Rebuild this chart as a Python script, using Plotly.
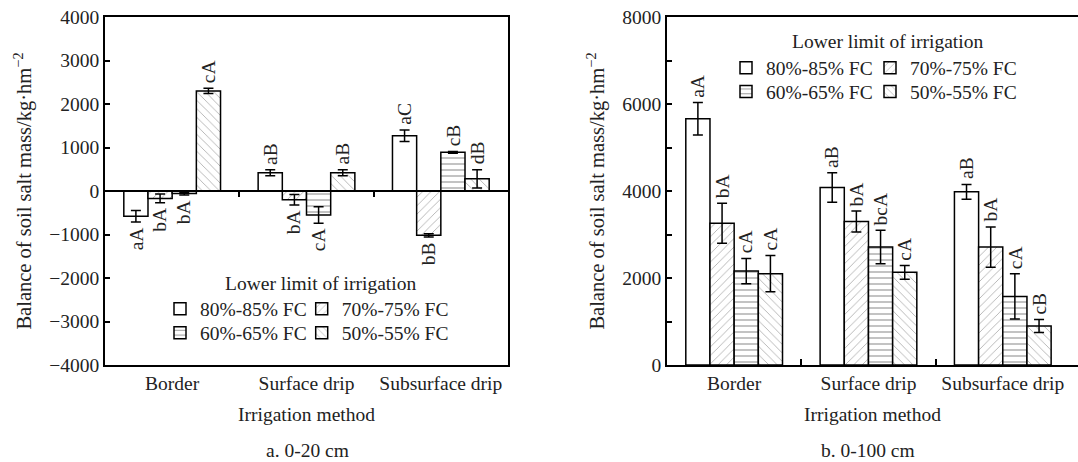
import plotly.graph_objects as go

categories = ["Border", "Surface drip", "Subsurface drip"]
series_names = ["80%-85% FC", "70%-75% FC", "60%-65% FC", "50%-55% FC"]

# Panel a: 0-20 cm
a_values = {
    "80%-85% FC": [-580, 420, 1270],
    "70%-75% FC": [-170, -200, -1020],
    "60%-65% FC": [-60, -550, 890],
    "50%-55% FC": [2300, 420, 280],
}
a_errors = {
    "80%-85% FC": [130, 70, 130],
    "70%-75% FC": [100, 120, 40],
    "60%-65% FC": [30, 190, 20],
    "50%-55% FC": [60, 70, 210],
}
a_letters = {
    "80%-85% FC": ["aA", "aB", "aC"],
    "70%-75% FC": ["bA", "bA", "bB"],
    "60%-65% FC": ["bA", "cA", "cB"],
    "50%-55% FC": ["cA", "aB", "dB"],
}

# Panel b: 0-100 cm
b_values = {
    "80%-85% FC": [5660, 4080, 3980],
    "70%-75% FC": [3260, 3300, 2710],
    "60%-65% FC": [2160, 2710, 1575],
    "50%-55% FC": [2100, 2130, 895],
}
b_errors = {
    "80%-85% FC": [375, 340, 170],
    "70%-75% FC": [460, 240, 465],
    "60%-65% FC": [290, 385, 520],
    "50%-55% FC": [415, 160, 150],
}
b_letters = {
    "80%-85% FC": ["aA", "aB", "aB"],
    "70%-75% FC": ["bA", "bA", "bA"],
    "60%-65% FC": ["cA", "bcA", "cA"],
    "50%-55% FC": ["cA", "cA", "cB"],
}

a_ticks = [4000, 3000, 2000, 1000, 0, -1000, -2000, -3000, -4000]
b_ticks = [0, 2000, 4000, 6000, 8000]

FONT = "Liberation Serif"
FS = 19.5
FS_Y = 20.5
TXT = "#222222"

patterns = {
    "80%-85% FC": dict(shape=""),
    "70%-75% FC": dict(shape="/", size=6, solidity=0.15, fgcolor="#666", bgcolor="white"),
    "60%-65% FC": dict(shape="-", size=6, solidity=0.17, fgcolor="#111", bgcolor="white"),
    "50%-55% FC": dict(shape="\\", size=6, solidity=0.15, fgcolor="#666", bgcolor="white"),
}

W = 0.18
offsets = [-1.5 * W, -0.5 * W, 0.5 * W, 1.5 * W]

# plot-area geometry in pixels
L, R, T, B = 105, 0, 17, 97
PW = 1078 - L - R
PH = 462 - T - B


def px_x(px):
    return (px - L) / PW


def px_y(py):
    return (462 - B - py) / PH


fig = go.Figure()
annotations = []

legend_pos = {}
col_text_a = [200, 341.7]
row_a = [309, 333]
col_text_b = [766, 910]
row_b = [68, 91.7]

for k, name in enumerate(series_names):
    xs = [i + offsets[k] for i in range(len(categories))]
    r, c = divmod(k, 2)
    # panel a
    lid = "legend" if k == 0 else f"legend{k + 1}"
    legend_pos[lid] = (px_x(col_text_a[c] - 40), px_y(row_a[r]))
    fig.add_trace(go.Bar(
        x=xs, y=a_values[name], width=W, name=name,
        marker=dict(color="white", line=dict(color="black", width=1.5), pattern=patterns[name]),
        error_y=dict(type="data", array=a_errors[name], color="black", thickness=1.5, width=5),
        xaxis="x", yaxis="y", legend=lid, showlegend=True,
    ))
    for x, v, e, t in zip(xs, a_values[name], a_errors[name], a_letters[name]):
        pos = v >= 0
        annotations.append(dict(
            x=x, y=v + e if pos else v - e, xref="x", yref="y", text=t, textangle=-90,
            showarrow=False, xanchor="center", yanchor="bottom" if pos else "top",
            yshift=3 if pos else -3, font=dict(family=FONT, size=FS, color=TXT)))
    # panel b
    lid2 = f"legend{k + 5}"
    legend_pos[lid2] = (px_x(col_text_b[c] - 40), px_y(row_b[r]))
    fig.add_trace(go.Bar(
        x=xs, y=b_values[name], width=W, name=name,
        marker=dict(color="white", line=dict(color="black", width=1.5), pattern=patterns[name]),
        error_y=dict(type="data", array=b_errors[name], color="black", thickness=1.5, width=5),
        xaxis="x2", yaxis="y2", legend=lid2, showlegend=True,
    ))
    for x, v, e, t in zip(xs, b_values[name], b_errors[name], b_letters[name]):
        annotations.append(dict(
            x=x, y=v + e, xref="x2", yref="y2", text=t, textangle=-90,
            showarrow=False, xanchor="center", yanchor="bottom", yshift=3,
            font=dict(family=FONT, size=FS, color=TXT)))

# invisible trace to carry the zero-line axis of panel a
fig.add_trace(go.Scatter(x=[None], y=[None], xaxis="x3", yaxis="y", showlegend=False, hoverinfo="skip"))

legend_layouts = {}
for lid, (lx, ly) in legend_pos.items():
    legend_layouts[lid] = dict(
        x=lx, y=ly, xanchor="left", yanchor="middle", orientation="h",
        bgcolor="rgba(0,0,0,0)", borderwidth=0,
        font=dict(family=FONT, size=FS, color=TXT),
    )

# legend titles and panel captions
annotations += [
    dict(x=px_x(320), y=px_y(283), xref="paper", yref="paper", text="Lower limit of irrigation",
         showarrow=False, xanchor="center", yanchor="middle", font=dict(family=FONT, size=FS, color=TXT)),
    dict(x=px_x(887), y=px_y(41.7), xref="paper", yref="paper", text="Lower limit of irrigation",
         showarrow=False, xanchor="center", yanchor="middle", font=dict(family=FONT, size=FS, color=TXT)),
    dict(x=px_x(307), y=px_y(450), xref="paper", yref="paper", text="a. 0-20 cm",
         showarrow=False, xanchor="center", yanchor="middle", font=dict(family=FONT, size=FS, color=TXT)),
    dict(x=px_x(868), y=px_y(450), xref="paper", yref="paper", text="b. 0-100 cm",
         showarrow=False, xanchor="center", yanchor="middle", font=dict(family=FONT, size=FS, color=TXT)),
]

axis_common = dict(showgrid=False, zeroline=False, showline=True, linecolor="black", linewidth=1.5,
                   tickfont=dict(family=FONT, size=FS, color=TXT), tickcolor="black", tickwidth=1.5)

ytitle = "Balance of soil salt mass/kg·hm<sup>−2</sup>"
xdom_a = [0, px_x(508)]
xdom_b = [px_x(667), 1]

fig.update_layout(
    width=1078, height=462,
    margin=dict(l=L, r=R, t=T, b=B),
    paper_bgcolor="white", plot_bgcolor="white",
    font=dict(family=FONT, size=FS, color=TXT),
    barmode="overlay",
    annotations=annotations,
    xaxis=dict(**axis_common, domain=xdom_a, range=[-0.5, 2.5], tickvals=[0, 1, 2], ticktext=categories,
               ticks="", mirror=True, anchor="y",
               title=dict(text="Irrigation method", font=dict(family=FONT, size=FS, color=TXT), standoff=14)),
    yaxis=dict(**axis_common, domain=[0, 1], range=[-4000, 4000], tickvals=a_ticks,
               ticks="inside", ticklen=5, mirror=True, anchor="x",
               title=dict(text=ytitle, font=dict(family=FONT, size=FS_Y, color=TXT), standoff=12)),
    xaxis3=dict(**axis_common, domain=xdom_a, range=[-0.5, 2.5], overlaying="x", anchor="free", position=0.5,
                side="bottom", tickvals=[0.5, 1.5], ticks="outside", ticklen=5, showticklabels=False),
    xaxis2=dict(**axis_common, domain=xdom_b, range=[-0.5, 2.56], tickvals=[0, 1, 2], ticktext=categories,
                ticks="", mirror=True, anchor="y2",
                minor=dict(tickvals=[0.5, 1.5], ticks="inside", ticklen=6, tickcolor="black", tickwidth=1.5),
                title=dict(text="Irrigation method", font=dict(family=FONT, size=FS, color=TXT), standoff=14)),
    yaxis2=dict(**axis_common, domain=[0, 1], range=[0, 8000], tickvals=b_ticks,
                ticks="inside", ticklen=5, mirror=False, anchor="x2",
                minor=dict(dtick=1000, ticks="inside", ticklen=5, tickcolor="black", tickwidth=1.5),
                title=dict(text=ytitle, font=dict(family=FONT, size=FS_Y, color=TXT), standoff=12)),
    **legend_layouts,
)

fig.write_html("out.html")
